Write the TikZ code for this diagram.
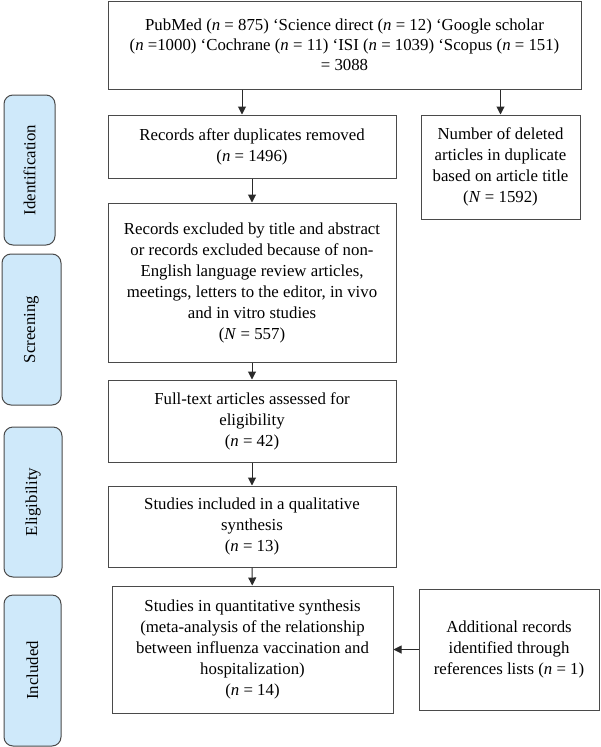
\documentclass[tikz,border=0pt]{standalone}
\usepackage{fontspec}
\setmainfont{Liberation Serif}
\usetikzlibrary{arrows.meta}
\definecolor{boxline}{HTML}{4A4A4A}
\definecolor{sidefill}{HTML}{CFE9FA}
\definecolor{arrline}{HTML}{2A2A2A}
\begin{document}
\begin{tikzpicture}[x=1pt,y=-1pt,
  every node/.style={font=\fontsize{16.8}{21}\selectfont},
  flowbox/.style={draw=boxline, line width=1pt, rectangle, align=center, inner sep=0pt},
  sidebox/.style={draw=boxline, fill=sidefill, line width=1pt, rounded corners=9pt, rotate=90, inner sep=0pt, align=center},
  arr/.style={draw=arrline, line width=1pt, -{Triangle[length=8pt,width=8pt]}}
]
\useasboundingbox (0,0) rectangle (600,747);

% side labels
\node[sidebox, minimum width=150pt, minimum height=51pt] (ident) at (29.5,170) {Identification};
\node[sidebox, minimum width=151pt, minimum height=59pt] (screen) at (31.5,329.5) {Screening};
\node[sidebox, minimum width=150pt, minimum height=58pt] (elig) at (33,502) {Eligibility};
\node[sidebox, minimum width=151pt, minimum height=57pt] (incl) at (32.5,670.5) {Included};

% flow boxes
\node[flowbox, minimum width=473pt, minimum height=88pt, font=\fontsize{16.8}{20}\selectfont] (top) at (344.5,45)
  {PubMed (\textit{n} = 875) `Science direct (\textit{n} = 12) `Google scholar\\
   (\textit{n} =1000) `Cochrane (\textit{n} = 11) `ISI (\textit{n} = 1039) `Scopus (\textit{n} = 151)\\
   = 3088};
\node[flowbox, minimum width=288pt, minimum height=63pt] (dup) at (252,146.5)
  {Records after duplicates removed\\(\textit{n} = 1496)};
\node[flowbox, minimum width=159pt, minimum height=104pt] (del) at (500.5,167)
  {Number of deleted\\articles in duplicate\\based on article title\\(\textit{N} = 1592)};
\node[flowbox, minimum width=288pt, minimum height=159pt] (excl) at (252,282.5)
  {Records excluded by title and abstract\\or records excluded because of non-\\English language review articles,\\meetings, letters to the editor, in vivo\\and in vitro studies\\(\textit{N} = 557)};
\node[flowbox, minimum width=288pt, minimum height=82pt] (full) at (252,421)
  {Full-text articles assessed for\\eligibility\\(\textit{n} = 42)};
\node[flowbox, minimum width=288pt, minimum height=81pt] (qual) at (252,526.5)
  {Studies included in a qualitative\\synthesis\\(\textit{n} = 13)};
\node[flowbox, minimum width=281pt, minimum height=127pt] (quant) at (252.5,649.5)
  {Studies in quantitative synthesis\\(meta-analysis of the relationship\\between influenza vaccination and\\hospitalization)\\(\textit{n} = 14)};
\node[flowbox, minimum width=180pt, minimum height=121pt] (add) at (509,649.5)
  {Additional records\\identified through\\references lists (\textit{n} = 1)};

% connectors
\draw[arr] ([xshift=-102.5pt]top.south) -- ([xshift=-10pt]dup.north);
\draw[arr] (top.south -| del.north) -- (del.north);
\draw[arr] (dup) -- (excl);
\draw[arr] (excl) -- (full);
\draw[arr] (full) -- (qual);
\draw[arr] (qual) -- (quant);
\draw[arr] (add) -- (quant);
\end{tikzpicture}
\end{document}
